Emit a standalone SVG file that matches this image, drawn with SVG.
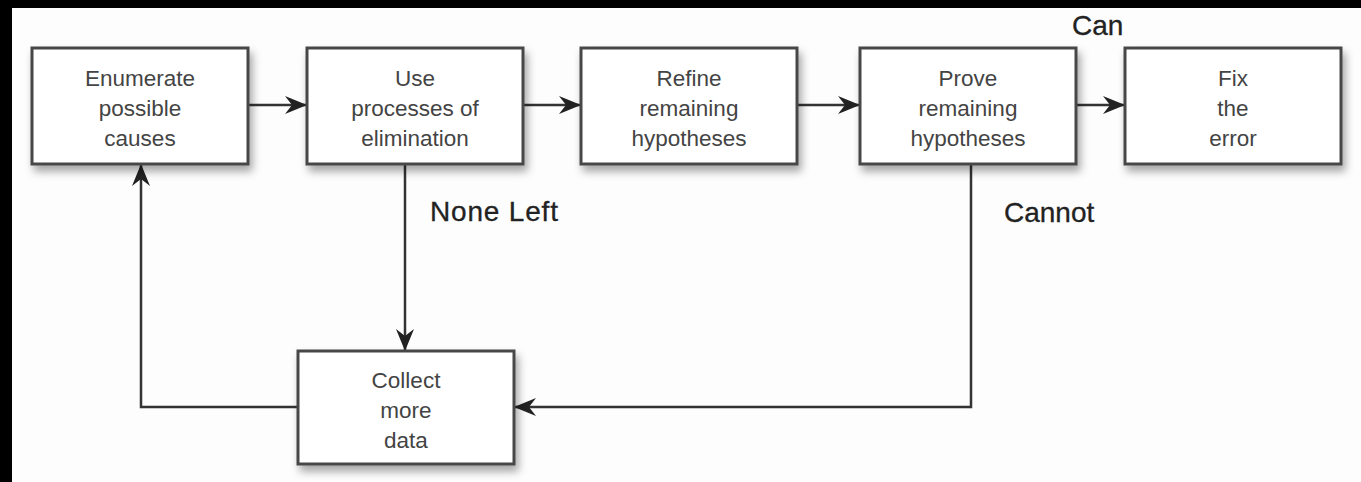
<svg xmlns="http://www.w3.org/2000/svg" width="1361" height="482" viewBox="0 0 1361 482">
  <defs>
    <style>
      .box { fill: #ffffff; stroke: #474747; stroke-width: 3; }
      .lbl { font-family: "Liberation Sans", Arial, sans-serif; font-size: 22.5px; fill: #444444; text-anchor: middle; }
      .edge-lbl { font-family: "Liberation Sans", Arial, sans-serif; font-size: 28px; fill: #222222; stroke: #222222; stroke-width: 0.3; }
      .wire { fill: none; stroke: #333333; stroke-width: 2.5; }
    </style>
    <filter id="shadow" x="-10%" y="-10%" width="125%" height="135%">
      <feDropShadow dx="3" dy="6" stdDeviation="4" flood-color="#000000" flood-opacity="0.35"/>
    </filter>
    <marker id="arrow" viewBox="0 0 22 18" refX="21" refY="9" markerWidth="22" markerHeight="18" markerUnits="userSpaceOnUse" orient="auto">
      <path d="M0,0 L22,9 L0,18 L7,9 Z" fill="#222222"/>
    </marker>
  </defs>

  <!-- frame and page -->
  <rect x="0" y="0" width="1361" height="482" fill="#000000"/>
  <rect x="12" y="8" width="1349" height="474" fill="#fdfdfd"/>

  <!-- connectors -->
  <g id="connectors">
    <line class="wire" x1="248" y1="105" x2="306" y2="105" marker-end="url(#arrow)"/>
    <line class="wire" x1="523" y1="105" x2="580" y2="105" marker-end="url(#arrow)"/>
    <line class="wire" x1="797" y1="105" x2="859" y2="105" marker-end="url(#arrow)"/>
    <line class="wire" x1="1076" y1="105" x2="1124" y2="105" marker-end="url(#arrow)"/>
    <line class="wire" x1="405" y1="164" x2="405" y2="350" marker-end="url(#arrow)"/>
    <polyline class="wire" points="971,164 971,407 515,407" marker-end="url(#arrow)"/>
    <polyline class="wire" points="298,407 141,407 141,165" marker-end="url(#arrow)"/>
    <text class="edge-lbl" x="430" y="221" textLength="128">None Left</text>
    <text class="edge-lbl" x="1004" y="222">Cannot</text>
    <text class="edge-lbl" x="1072" y="35">Can</text>
  </g>

  <g id="enumerate">
    <rect class="box" x="32" y="48" width="216" height="116" filter="url(#shadow)"/>
    <text class="lbl" x="140" y="86">Enumerate</text>
    <text class="lbl" x="140" y="116">possible</text>
    <text class="lbl" x="140" y="146">causes</text>
  </g>

  <g id="eliminate">
    <rect class="box" x="307" y="48" width="216" height="116" filter="url(#shadow)"/>
    <text class="lbl" x="415" y="86">Use</text>
    <text class="lbl" x="415" y="116">processes of</text>
    <text class="lbl" x="415" y="146">elimination</text>
  </g>

  <g id="refine">
    <rect class="box" x="581" y="48" width="216" height="116" filter="url(#shadow)"/>
    <text class="lbl" x="689" y="86">Refine</text>
    <text class="lbl" x="689" y="116">remaining</text>
    <text class="lbl" x="689" y="146">hypotheses</text>
  </g>

  <g id="prove">
    <rect class="box" x="860" y="48" width="216" height="116" filter="url(#shadow)"/>
    <text class="lbl" x="968" y="86">Prove</text>
    <text class="lbl" x="968" y="116">remaining</text>
    <text class="lbl" x="968" y="146">hypotheses</text>
  </g>

  <g id="fix">
    <rect class="box" x="1125" y="48" width="216" height="116" filter="url(#shadow)"/>
    <text class="lbl" x="1233" y="86">Fix</text>
    <text class="lbl" x="1233" y="116">the</text>
    <text class="lbl" x="1233" y="146">error</text>
  </g>

  <g id="collect">
    <rect class="box" x="298" y="351" width="216" height="113" filter="url(#shadow)"/>
    <text class="lbl" x="406" y="388">Collect</text>
    <text class="lbl" x="406" y="418">more</text>
    <text class="lbl" x="406" y="448">data</text>
  </g>
</svg>
